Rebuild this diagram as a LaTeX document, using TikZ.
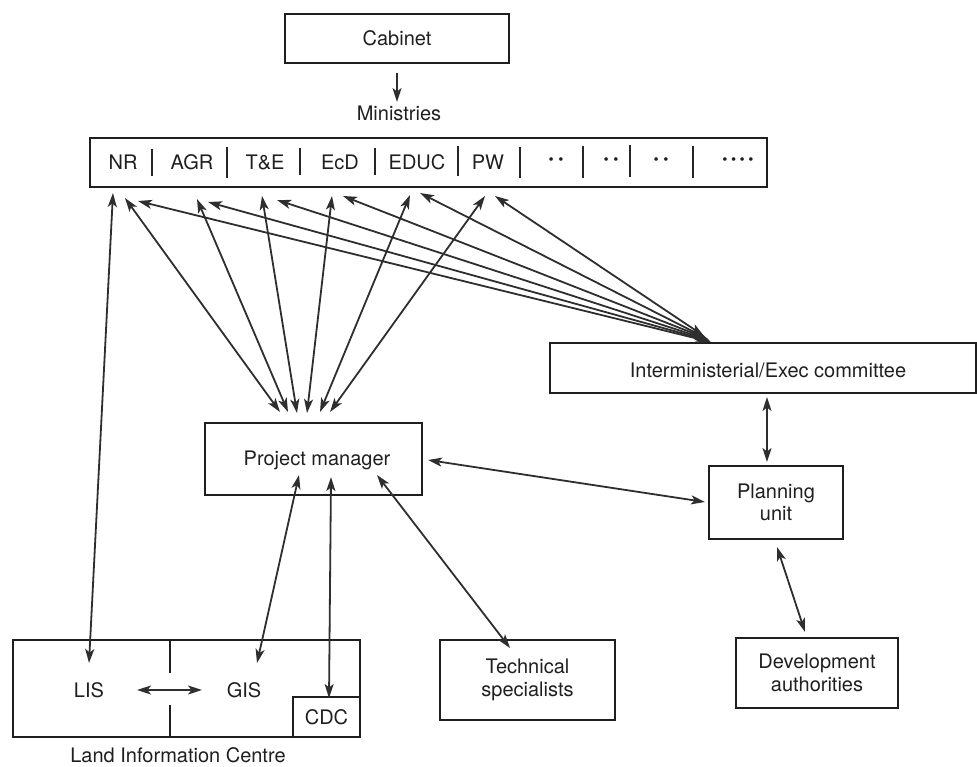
\documentclass[tikz,border=0pt]{standalone}
\usepackage{fontspec}
\setmainfont{TeX Gyre Heros}
\usetikzlibrary{arrows.meta}
\begin{document}
\begin{tikzpicture}[x=1pt,y=-1pt,
  every node/.style={font=\fontsize{20}{22.5}\selectfont, text=black!88},
  box/.style={draw=black!88, line width=2pt, inner sep=0pt, align=center},
  lbl/.style={inner sep=0pt, align=center},
  conn/.style={draw=black!82, line width=1.8pt},
  onehead/.style={-{Stealth[length=14pt,width=9pt,inset=3.5pt]}},
  twohead/.style={{Stealth[length=14pt,width=9pt,inset=3.5pt]}-{Stealth[length=14pt,width=9pt,inset=3.5pt]}},
  sepline/.style={draw=black!85, line width=1.5pt},
  divline/.style={draw=black!88, line width=2pt},
  dots/.style={inner sep=0pt, font=\fontsize{24}{24}\bfseries}]
\useasboundingbox (0,0) rectangle (977,766);

% boxes
\node[box, minimum width=224pt, minimum height=49pt] (cab) at (397,38.5) {Cabinet};
\node[lbl] (minlbl) at (399,113) {Ministries};
\node[box, minimum width=677pt, minimum height=49pt] (min) at (428.5,162.5) {};
\node[box, minimum width=426pt, minimum height=50pt] (im) at (763,368) {};
\node[lbl] (imt) at (768,370) {Interministerial/Exec committee};
\node[box, minimum width=217pt, minimum height=72pt] (pm) at (313.5,459) {};
\node[lbl] (pmt) at (317,460) {Project manager};
\node[box, minimum width=134pt, minimum height=73pt] (pu) at (776,502.5) {Planning\\unit};
\node[box, minimum width=162pt, minimum height=70pt] (dev) at (817,673) {Development\\authorities};
\node[box, minimum width=175pt, minimum height=80pt] (tech) at (527.5,680) {Technical\\specialists};
\node[box, minimum width=347pt, minimum height=97pt] (lic) at (186.5,688.5) {};
\node[box, minimum width=67pt, minimum height=40pt] (cdc) at (326.5,717) {CDC};
\node[lbl] (lis) at (89,690) {LIS};
\node[lbl] (gis) at (244,690) {GIS};
\node[lbl] (lict) at (178,755) {Land Information Centre};

% divider of the Land Information Centre
\draw[divline] (170,640) -- (170,673);
\draw[divline] (170,705) -- (170,737);

% ministries labels and separators
\node[lbl] (nr) at (123,162) {NR};
\node[lbl] (agr) at (192,162) {AGR};
\node[lbl] (te) at (265,162) {T\&E};
\node[lbl] (ecd) at (340,162) {EcD};
\node[lbl] (educ) at (417,162) {EDUC};
\node[lbl] (pw) at (488,162) {PW};
\node[dots] (d1) at (556,162) {·\hspace{3pt}·};
\node[dots] (d2) at (611,162) {·\hspace{3pt}·};
\node[dots] (d3) at (661,162) {·\hspace{3pt}·};
\node[dots] (d4) at (738,162) {·\hspace{2pt}·\hspace{2pt}·\hspace{2pt}·};
\foreach \sx/\ya/\yb in {152/149/176, 227/147/178, 300/148/175, 375/148/175, 458/146/176, 520/147/178, 583/146/178, 630/145/177, 693/146/178}
  \draw[sepline] (\sx,\ya) -- (\sx,\yb);

% connector end points
\coordinate (cabS) at (397,73);
\coordinate (minN) at (397,102);
\coordinate (m1) at (113,193);
\coordinate (m2) at (125,198);
\coordinate (m3) at (138,201);
\coordinate (m4) at (197,199);
\coordinate (m5) at (208,202);
\coordinate (m6) at (262,196);
\coordinate (m7) at (277,200);
\coordinate (m8) at (332,196);
\coordinate (m9) at (343,196);
\coordinate (m10) at (410,195);
\coordinate (m11) at (420,193);
\coordinate (m12) at (485,196);
\coordinate (m13) at (495,196);
\coordinate (pm1) at (280,412);
\coordinate (pm2) at (288,412);
\coordinate (pm3) at (297,413);
\coordinate (pm4) at (307,413);
\coordinate (pm5) at (320,412);
\coordinate (pm6) at (330,412);
\coordinate (im1) at (711,342);
\coordinate (im2) at (710,341);
\coordinate (im3) at (709,340);
\coordinate (im4) at (708,339);
\coordinate (im5) at (706,338);
\coordinate (im6) at (704,336);
\coordinate (lisN) at (89,663);
\coordinate (imS) at (767,397);
\coordinate (puN) at (767,462);
\coordinate (pmE) at (428,460);
\coordinate (puW) at (705,502);
\coordinate (puS) at (777,547);
\coordinate (devN) at (805,632);
\coordinate (pmG) at (299,475);
\coordinate (gisN) at (257,663);
\coordinate (pmC) at (331,477);
\coordinate (cdcN) at (329,698);
\coordinate (pmT) at (377,475);
\coordinate (techN) at (510,648);
\coordinate (lisE) at (137,690);
\coordinate (gisW) at (202,690);

% connectors
\draw[conn,onehead] (cabS) -- (minN);
\draw[conn,twohead] (m1) -- (lisN);
\draw[conn,twohead] (m2) -- (pm1);
\draw[conn,twohead] (m4) -- (pm2);
\draw[conn,twohead] (m6) -- (pm3);
\draw[conn,twohead] (m8) -- (pm4);
\draw[conn,twohead] (m10) -- (pm5);
\draw[conn,twohead] (m12) -- (pm6);
\draw[conn,twohead] (m3) -- (im1);
\draw[conn,twohead] (m5) -- (im2);
\draw[conn,twohead] (m7) -- (im3);
\draw[conn,twohead] (m9) -- (im4);
\draw[conn,twohead] (m11) -- (im5);
\draw[conn,twohead] (m13) -- (im6);
\draw[conn,twohead] (imS) -- (puN);
\draw[conn,twohead] (pmE) -- (puW);
\draw[conn,twohead] (puS) -- (devN);
\draw[conn,twohead] (pmG) -- (gisN);
\draw[conn,twohead] (pmC) -- (cdcN);
\draw[conn,twohead] (pmT) -- (techN);
\draw[conn,twohead] (lisE) -- (gisW);
\end{tikzpicture}
\end{document}
